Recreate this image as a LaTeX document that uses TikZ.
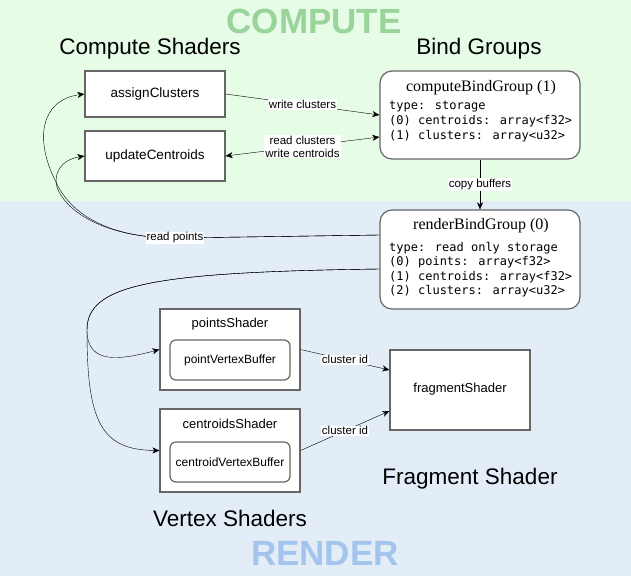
\documentclass[tikz,border=0pt]{standalone}
\usepackage{fontspec}
\setmainfont{Liberation Sans}
\newfontfamily\codefont{DejaVu Sans Mono}
\newfontfamily\namefont{Liberation Serif}
\usetikzlibrary{arrows.meta,calc}

\definecolor{computebg}{HTML}{E6FCE6}
\definecolor{renderbg}{HTML}{E3EDF8}
\definecolor{computefg}{HTML}{9AD49A}
\definecolor{renderfg}{HTML}{A3C5ED}
\definecolor{boxline}{HTML}{666666}

\begin{document}
\begin{tikzpicture}[x=1pt,y=-1pt,
    >={Stealth[length=7pt,width=6pt,inset=2pt]},
    shaderbox/.style={draw=boxline,line width=1.2pt,fill=white,inner sep=0pt,
      minimum width=140pt,font=\fontsize{13.5}{16}\selectfont},
    bufferbox/.style={draw=boxline,line width=1.2pt,fill=white,rounded corners=6pt,
      minimum width=120pt,minimum height=40pt,inner sep=0pt,font=\fontsize{12}{14}\selectfont},
    bindbox/.style={draw=boxline,line width=1.2pt,fill=white,rounded corners=12pt,
      minimum width=200pt,inner sep=0pt},
    heading/.style={font=\fontsize{22.5}{26}\selectfont},
    zone/.style={font=\fontsize{35}{40}\selectfont\bfseries}]

  \useasboundingbox (0,0) rectangle (631,579);
  \fill[computebg] (0,0) rectangle (631,201);
  \fill[renderbg] (0,201) rectangle (631,576);

  % zones and headings
  \node[zone,text=computefg] (compute) at (314,21) {COMPUTE};
  \node[zone,text=renderfg]  (render)  at (325,553) {RENDER};
  \node[heading] (cshaders)  at (150,49)  {Compute Shaders};
  \node[heading] (bgroups)   at (479,49)  {Bind Groups};
  \node[heading] (vshaders)  at (230,518) {Vertex Shaders};
  \node[heading] (fshader)   at (470,479) {Fragment Shader};

  % compute shaders
  \node[shaderbox,minimum height=46pt] (assign) at (155,94)  {assignClusters};
  \node[shaderbox,minimum height=50pt] (update) at (155,156) {updateCentroids};

  % bind groups
  \node[bindbox,minimum height=88pt] (cbg) at (480,115) {};
  \node[font=\namefont\fontsize{16}{18}\selectfont] (cbgname) at (481,88) {computeBindGroup (1)};
  \node[font=\codefont\fontsize{12}{15}\selectfont,align=left,anchor=west,inner sep=0pt]
    (cbgtext) at (389,122) {type: storage\\(0) centroids: array<f32>\\(1) clusters: array<u32>};

  \node[bindbox,minimum height=99pt] (rbg) at (480,259.5) {};
  \node[font=\namefont\fontsize{16}{18}\selectfont] (rbgname) at (481,226) {renderBindGroup (0)};
  \node[font=\codefont\fontsize{12}{14.4}\selectfont,align=left,anchor=west,inner sep=0pt]
    (rbgtext) at (389,269.5) {type: read only storage\\(0) points: array<f32>\\(1) centroids: array<f32>\\(2) clusters: array<u32>};

  % vertex and fragment shaders
  \node[shaderbox,minimum height=81pt] (pts) at (230,349.5) {};
  \node[font=\fontsize{13}{15}\selectfont] (ptsname) at (230,324) {pointsShader};
  \node[bufferbox] (ptsbuf) at (230,360) {pointVertexBuffer};

  \node[shaderbox,minimum height=83pt] (cen) at (230,450.5) {};
  \node[font=\fontsize{13}{15}\selectfont] (cenname) at (230,424) {centroidsShader};
  \node[bufferbox] (cenbuf) at (230,462) {centroidVertexBuffer};

  \node[shaderbox,minimum height=80pt] (frag) at (460,390) {};
  \node[font=\fontsize{13}{15}\selectfont] (fragname) at (460,389) {fragmentShader};

  \coordinate (rbgin)  at ($(rbg.west)+(0,-24.5)$);
  \coordinate (rbgout) at ($(rbg.west)+(0,9.5)$);

  \begin{scope}[every node/.style={fill=white,inner sep=1pt,font=\fontsize{11.5}{13}\selectfont}]

    \begin{scope}[every edge/.style={draw,->}]
      \path (assign.east) edge node {write clusters} (cbg.west);
      \path (update.east) edge[<->] node[align=center] {read clusters\\write centroids} ($(cbg.west)+(0,22)$);
      \path (cbg.south)   edge node {copy buffers} (rbg.north);
      \path (pts.east)    edge node {cluster id} ($(frag.west)+(0,-20)$);
      \path (cen.east)    edge node {cluster id} ($(frag.west)+(0,21)$);
    \end{scope}

    % read points, back to the compute shaders
    \draw[->] (rbgin) -- (175,238) .. controls (110,238) and (70,215) .. (58,190)
      .. controls (52,175) and (60,160) .. (update.west);
    \draw[->] (rbgin) -- (175,238) node {read points} .. controls (110,238) and (70,215) .. (55,180)
      .. controls (35,140) and (40,100) .. (assign.west);

    % buffers down to the vertex shaders
    \draw[->] (rbgout) .. controls (150,272) and (87,285) .. (87,330)
      .. controls (87,365) and (120,360) .. (pts.west);
    \draw[->] (rbgout) .. controls (150,272) and (87,285) .. (87,330)
      .. controls (87,420) and (100,450) .. (cen.west);
  \end{scope}

\end{tikzpicture}
\end{document}
